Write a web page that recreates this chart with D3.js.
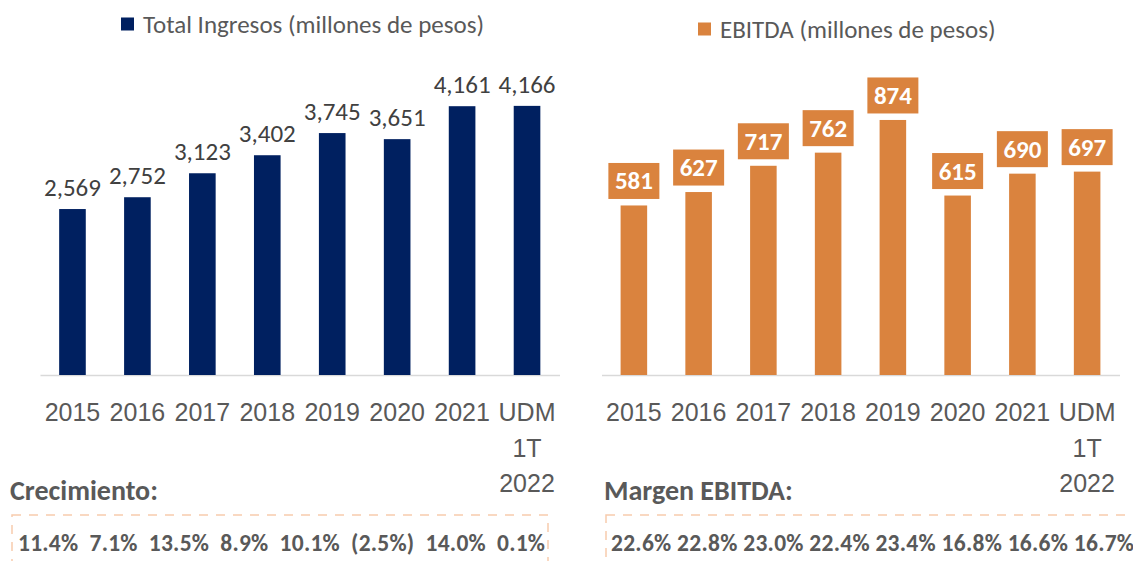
<!DOCTYPE html>
<html><head><meta charset="utf-8">
<script src="https://cdn.jsdelivr.net/npm/d3@7"></script>
<style>
html,body{margin:0;padding:0;background:#fff;}
svg{display:block;font-family:Carlito, Calibri, Lato, sans-serif;}
</style></head>
<body>
<svg id="chart" width="1133" height="561"></svg>
<script>
const categories = ["2015","2016","2017","2018","2019","2020","2021","UDM 1T 2022"];
const ingresos = [2569,2752,3123,3402,3745,3651,4161,4166];
const ebitda = [581,627,717,762,874,615,690,697];
const crecimiento = ["11.4%","7.1%","13.5%","8.9%","10.1%","(2.5%)","14.0%","0.1%"];
const margen = ["22.6%","22.8%","23.0%","22.4%","23.4%","16.8%","16.6%","16.7%"];
const legendLeft = "Total Ingresos (millones de pesos)";
const legendRight = "EBITDA (millones de pesos)";

const NAVY = "#002060", ORANGE = "#DA833E", GRAY = "#595959", DASH = "#F8CBAD";
const svg = d3.select("#chart");
const fmt = d3.format(",");

function panel(opts){
  const g = svg.append("g");
  const x = d3.scaleBand().domain(categories).range(opts.xr).paddingInner(0.59).paddingOuter(0.295);
  const y = d3.scaleLinear().domain(opts.yd).range([375, opts.ytop]);

  const ax = g.append("g").attr("transform","translate(0,375)")
    .call(d3.axisBottom(x).tickSize(0).tickPadding(0));
  ax.select(".domain").attr("stroke","#d9d9d9").attr("stroke-width",1.5);
  ax.selectAll("text").remove();
  ax.selectAll(".tick").each(function(d){
    const t = d3.select(this).append("text")
      .attr("fill",GRAY).attr("font-size",25).attr("text-anchor","middle");
    d.split(" ").forEach((w,i)=>{
      t.append("tspan").attr("x",0).attr("y",46 + i*35.5).text(w);
    });
  });

  g.selectAll("rect.bar").data(opts.values).join("rect").attr("class","bar")
    .attr("x",(d,i)=>x(categories[i])).attr("width",x.bandwidth())
    .attr("y",d=>y(d)).attr("height",d=>375-y(d)).attr("fill",opts.color);

  const lg = g.append("g").attr("transform",`translate(${opts.legX},${opts.legY})`);
  lg.append("rect").attr("x",0).attr("y",-6.5).attr("width",13).attr("height",13).attr("fill",opts.color);
  lg.append("text").attr("x",22).attr("y",9).attr("font-size",25).attr("fill",GRAY).text(opts.legend);
  return {g,x,y};
}

const L = panel({xr:[40,559.5], yd:[0,5000], ytop:52, values:ingresos, color:NAVY,
  legX:121, legY:24, legend:legendLeft});
L.g.selectAll("text.val").data(ingresos).join("text").attr("class","val")
  .attr("x",(d,i)=>L.x(categories[i])+L.x.bandwidth()/2).attr("y",d=>L.y(d)-13)
  .attr("text-anchor","middle").attr("font-size",25).attr("fill","#404040").text(d=>fmt(d));

const R = panel({xr:[601.5,1119.5], yd:[0,1000], ytop:83.2, values:ebitda, color:ORANGE,
  legX:698, legY:29, legend:legendRight});
const lab = R.g.selectAll("g.lab").data(ebitda).join("g").attr("class","lab")
  .attr("transform",(d,i)=>`translate(${R.x(categories[i])+R.x.bandwidth()/2},${R.y(d)-6.5})`);
lab.append("rect").attr("x",-25.5).attr("y",-36).attr("width",51).attr("height",36).attr("fill",ORANGE);
lab.append("text").attr("x",0).attr("y",-9.5).attr("text-anchor","middle")
  .attr("font-size",25).attr("font-weight","bold").attr("fill","#fff").text(d=>d);

function bottomBox(x0,x1,title,vals,sep,tx,tlen){
  svg.append("text").attr("x",x0-2).attr("y",500).attr("font-size",28).attr("font-weight","bold")
    .attr("fill",GRAY).text(title);
  svg.append("rect").attr("x",x0).attr("y",515).attr("width",x1-x0).attr("height",60)
    .attr("fill","none").attr("stroke",DASH).attr("stroke-width",1.5).attr("stroke-dasharray","9,8");
  svg.append("text").attr("x",tx).attr("y",551).attr("font-size",23.5).attr("font-weight","bold")
    .attr("fill",GRAY).style("white-space","pre")
    .attr("textLength",tlen).attr("lengthAdjust","spacing").text(vals.join(sep));
}
bottomBox(12,548,"Crecimiento:",crecimiento,"  ",18,527);
bottomBox(606,1145,"Margen EBITDA:",margen," ",611,523);
</script>
</body></html>
